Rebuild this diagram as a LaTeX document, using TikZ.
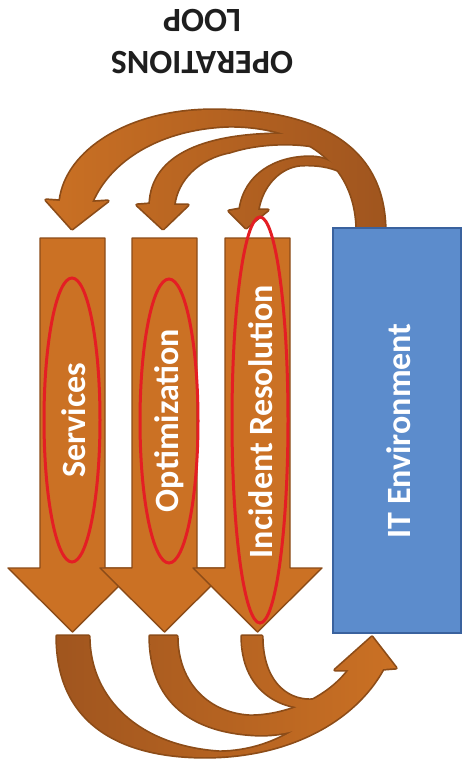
\documentclass[tikz,border=0pt]{standalone}
\usepackage{fontspec}
\setmainfont{Carlito}
\definecolor{orng}{RGB}{203,113,36}
\definecolor{arrowedge}{RGB}{140,76,24}
\definecolor{brownd}{RGB}{158,84,30}
\definecolor{boxblue}{RGB}{92,140,204}
\definecolor{boxedge}{RGB}{58,98,158}
\definecolor{ringred}{RGB}{228,30,36}
\definecolor{titlegray}{RGB}{30,30,30}
% curved feedback arrows above the columns
\def\topA{(385,232) .. controls (385,130) and (290,110) .. (213,110) .. controls (130,110) and (66,150) .. (60,201) -- (46,200) -- (72,229) -- (108,201) -- (92,202) .. controls (110,160) and (160,128) .. (230,126) .. controls (300,126) and (357,160) .. (357,232) -- cycle}
\def\topB{(150,204) .. controls (152,155) and (205,133) .. (290,134) .. controls (302,135) and (314,140) .. (322,148) .. controls (300,142) and (260,142) .. (230,152) .. controls (198,158) and (177,180) .. (174,205) -- (188,205) -- (163,229) -- (137,205) -- cycle}
\def\topC{(240,209) .. controls (245,175) and (275,157) .. (310,157) .. controls (325,157) and (335,163) .. (342,172) .. controls (330,166) and (315,164) .. (300,165) .. controls (280,167) and (262,185) .. (258,210) -- (268,210) -- (246,228) -- (229,211) -- cycle}
% curved return arrows below the columns
\def\botA{(57,636) .. controls (57,730) and (130,757) .. (205,757) .. controls (290,757) and (355,720) .. (383,669) -- (396,668) -- (372,637) -- (335,670) -- (352,670) .. controls (325,715) and (280,751) .. (220,752) .. controls (140,747) and (89,700) .. (89,636) -- cycle}
\def\botB{(150,636) .. controls (150,700) and (190,733) .. (260,735) .. controls (315,735) and (355,705) .. (378,662) -- (354,662) .. controls (335,695) and (290,716) .. (250,716) .. controls (210,714) and (177,685) .. (177,636) -- cycle}
\def\botC{(242,636) .. controls (242,690) and (280,710) .. (315,708) .. controls (340,706) and (362,690) .. (376,662) -- (356,662) .. controls (340,690) and (325,700) .. (310,700) .. controls (285,700) and (262,680) .. (262,636) -- cycle}
\begin{document}
\begin{tikzpicture}[x=1pt,y=-1pt,
  outl/.style={draw=arrowedge, line width=3.4pt, line join=round},
  topshade/.style={left color=orng, right color=brownd},
  botshade/.style={left color=brownd, right color=orng},
  downarrow/.style={fill=orng, draw=arrowedge, line width=1.4pt, line join=round},
  ring/.style={draw=ringred, line width=3pt},
  lab/.style={text=white, font=\bfseries\fontsize{34}{40}\selectfont, rotate=90, anchor=base, inner sep=0pt},
  ttl/.style={text=titlegray, font=\bfseries\fontsize{34}{42}\selectfont, rotate=180, align=center, inner sep=0pt}]
\useasboundingbox (0,0) rectangle (462,773);

% title, printed upside down
\node[ttl] (title) at (202,41.5) {OPERATIONS\\LOOP};

% upper arcs: outlines first, then fills so the union keeps a single edge
\draw[outl] \topA;
\draw[outl] \topB;
\draw[outl] \topC;
\begin{scope}\clip \topA; \shade[topshade] (40,100) rectangle (400,240);\end{scope}
\begin{scope}\clip \topB; \shade[topshade] (40,100) rectangle (400,240);\end{scope}
\begin{scope}\clip \topC; \shade[topshade] (40,100) rectangle (400,240);\end{scope}

% the three down arrows
\foreach \c in {72.5,164.5,257.5}
  \draw[downarrow] (\c-32.5,238) -- (\c+32.5,238) -- (\c+32.5,568) -- (\c+64.5,568)
     -- (\c,632) -- (\c-64.5,568) -- (\c-32.5,568) -- cycle;

% lower arcs merging into one arrow
\draw[outl] \botA;
\draw[outl] \botB;
\draw[outl] \botC;
\begin{scope}\clip \botA; \shade[botshade] (40,630) rectangle (400,762);\end{scope}
\begin{scope}\clip \botB; \shade[botshade] (40,630) rectangle (400,762);\end{scope}
\begin{scope}\clip \botC; \shade[botshade] (40,630) rectangle (400,762);\end{scope}

% IT environment block
\draw[fill=boxblue, draw=boxedge, line width=2pt] (333,228) rectangle (461,633);

% labels
\node[lab] (services) at (85,420.5) {Services};
\node[lab] (optimization) at (178,420.5) {Optimization};
\node[lab] (incident) at (272,421.5) {Incident Resolution};
\node[lab] (itenv) at (410,431) {IT Environment};

% highlight rings
\draw[ring] (72,420) ellipse [x radius=28, y radius=142];
\draw[ring] (169,421) ellipse [x radius=29, y radius=142];
\draw[ring] (260,420) ellipse [x radius=28, y radius=203];
\end{tikzpicture}
\end{document}
